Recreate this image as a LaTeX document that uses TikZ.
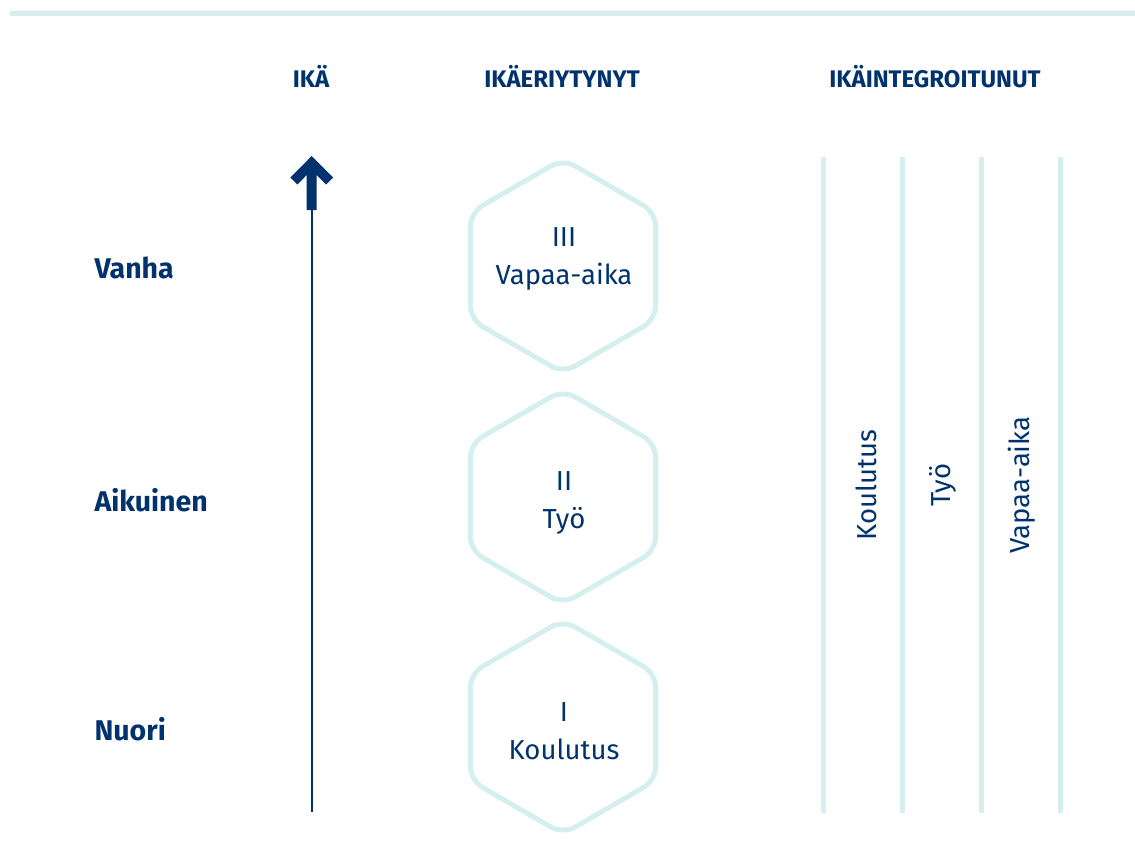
\documentclass[tikz,border=0pt]{standalone}
\usepackage{fontspec}
\setmainfont{Fira Sans}
\usetikzlibrary{shapes.geometric}
\definecolor{navy}{HTML}{00336E}
\definecolor{teal}{HTML}{D5EFEE}
\tikzset{
  hdr/.style={font=\fontsize{24}{28}\selectfont\bfseries, text=navy, anchor=base},
  age/.style={font=\fontsize{28.5}{32}\selectfont\bfseries, text=navy, anchor=west},
  lbl/.style={font=\fontsize{27.5}{38}\selectfont, text=navy, align=center},
  hexbox/.style={draw=teal, line width=5pt, regular polygon, regular polygon sides=6, regular polygon rotate=30, minimum size=214pt, inner sep=0pt, rounded corners=14pt},
  col/.style={draw=teal, line width=5pt},
  vtxt/.style={font=\fontsize{27.5}{30}\selectfont, text=navy, rotate=90}
}
\begin{document}
\begin{tikzpicture}[x=1pt,y=-1pt]
\useasboundingbox (0,0) rectangle (1135,863);
% top rule
\coordinate (rl) at (10,13);
\coordinate (rr) at (1135,13);
\draw[col] (rl) -- (rr);
% headers
\node[hdr] (h1) at (311,87) {IKÄ};
\node[hdr] (h2) at (562,87) {IKÄERIYTYNYT};
\node[hdr] (h3) at (935,87) {IKÄINTEGROITUNUT};
% age labels
\node[age] (a1) at (91,268) {Vanha};
\node[age] (a2) at (91,500) {Aikuinen};
\node[age] (a3) at (91,729) {Nuori};
% arrow
\coordinate (ab) at (312,812);
\coordinate (at) at (312,209);
\draw[navy, line width=2.7pt] (ab) -- (at);
\fill[navy] (311.7,156) -- (333,177.5) -- (326,184.5) -- (316.7,175) -- (316.7,210) -- (306.7,210) -- (306.7,175) -- (297.4,184.5) -- (290.4,177.5) -- cycle;
% hexagons
\node[hexbox] (x3) at (563,266) {};
\node[hexbox] (x2) at (563,497) {};
\node[hexbox] (x1) at (563,727) {};
\node[lbl] (t3) at (564,259) {III\\Vapaa-aika};
\node[lbl] (t2) at (564,503) {II\\Työ};
\node[lbl] (t1) at (564,731) {I\\Koulutus};
% columns
\foreach \x [count=\i] in {823,902,981,1060} {
  \coordinate (c\i t) at (\x,157);
  \coordinate (c\i b) at (\x,813);
  \draw[col] (c\i t) -- (c\i b);
}
\node[vtxt] (v1) at (866,485) {Koulutus};
\node[vtxt] (v2) at (943,485) {Työ};
\node[vtxt] (v3) at (1022,485) {Vapaa-aika};
\end{tikzpicture}
\end{document}
